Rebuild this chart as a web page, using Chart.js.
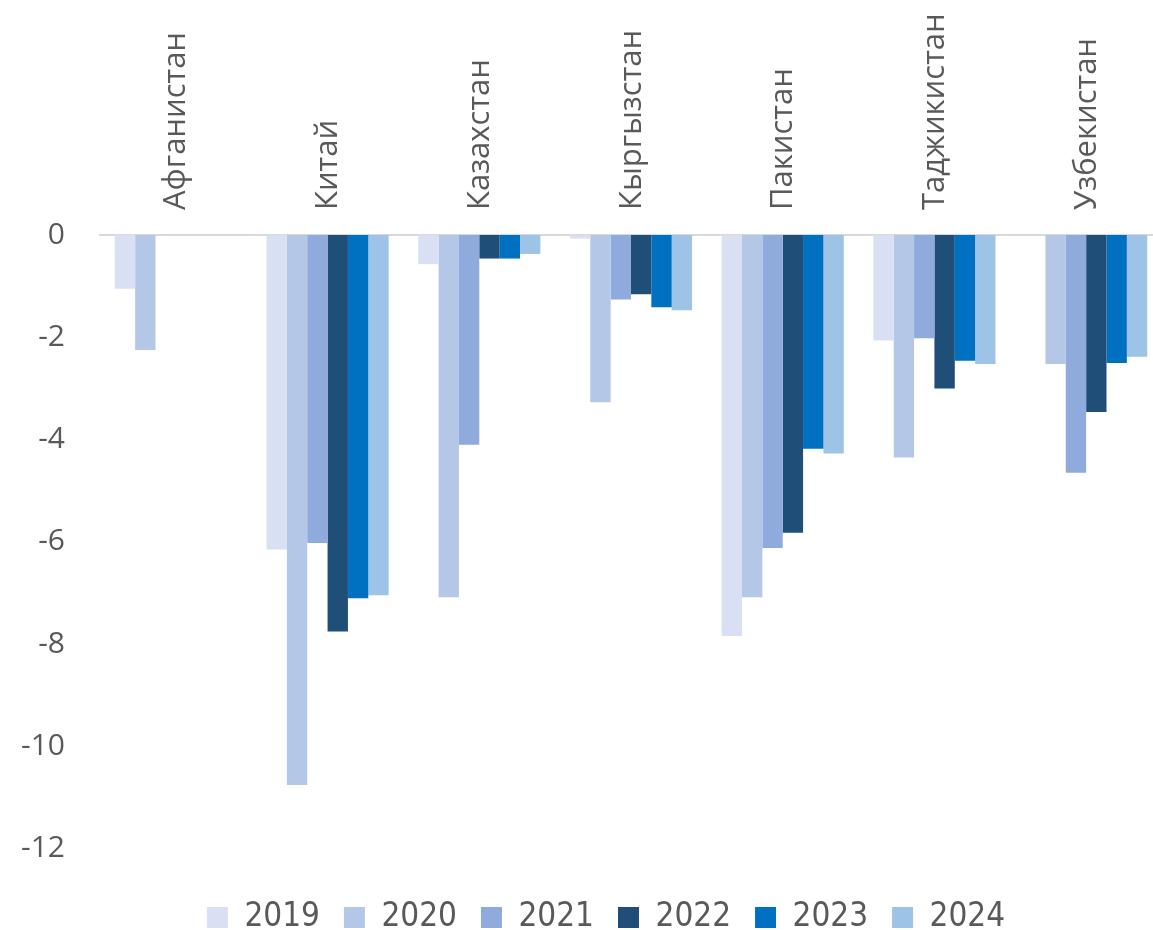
<!DOCTYPE html>
<html>
<head>
<meta charset="utf-8">
<script src="https://cdn.jsdelivr.net/npm/chart.js@4"></script>
<style>
  html, body { margin: 0; padding: 0; background: #fff; overflow: hidden; }
  #wrap { position: absolute; left: 0; top: 0; }
</style>
</head>
<body>
<div id="wrap"><canvas id="balanceChart" width="1162" height="944"></canvas></div>
<script>
// Categories (countries) and years
var countries = ["Афганистан", "Китай", "Казахстан", "Кыргызстан", "Пакистан", "Таджикистан", "Узбекистан"];
var years = ["2019", "2020", "2021", "2022", "2023", "2024"];

// Values per year
var v2019 = [-1.05, -6.15, -0.57, -0.07, -7.84, -2.06, null];
var v2020 = [-2.25, -10.75, -7.08, -3.27, -7.08, -4.35, -2.52];
var v2021 = [null, -6.02, -4.10, -1.26, -6.12, -2.02, -4.65];
var v2022 = [null, -7.75, -0.46, -1.16, -5.82, -3.00, -3.46];
var v2023 = [null, -7.10, -0.46, -1.41, -4.18, -2.46, -2.50];
var v2024 = [null, -7.04, -0.37, -1.47, -4.27, -2.52, -2.38];

var yTicks = [0, -2, -4, -6, -8, -10, -12];

var colors = ["#dae0f3", "#b4c7e7", "#8faadc", "#1f4e79", "#0070c0", "#9dc3e6"];
var series = [v2019, v2020, v2021, v2022, v2023, v2024];

var dataBalance = {
    labels: countries,
    datasets: years.map(function (y, i) {
        return {
            label: y,
            data: series[i],
            backgroundColor: colors[i],
            borderWidth: 0,
            categoryPercentage: 0.805,
            barPercentage: 1.0
        };
    })
};

// nudge the legend a bit to the right, like the original
var legendShift = {
    id: "legendShift",
    afterLayout: function (chart) {
        chart.legend.left += 25;
        chart.legend.right += 25;
    }
};

var optBalance = {
    responsive: false,
    animation: false,
    layout: { padding: 0 },
    plugins: {
        tooltip: { enabled: false },
        legend: {
            position: "bottom",
            labels: {
                boxWidth: 21,
                boxHeight: 21,
                padding: 24,
                color: "#595959",
                font: { family: "'DejaVu Sans Condensed', sans-serif", size: 33 }
            }
        }
    },
    scales: {
        x: {
            position: "top",
            grid: { display: false, drawTicks: false },
            border: { display: true, color: "#d9d9d9", width: 2 },
            ticks: {
                color: "#595959",
                minRotation: 90,
                maxRotation: 90,
                padding: 25,
                labelOffset: 38,
                autoSkip: false,
                font: { family: "'Open Sans', sans-serif", size: 31 }
            },
            afterFit: function (s) { s.height = 235; }
        },
        y: {
            min: -12.55,
            max: 0,
            grid: { display: false, drawTicks: false },
            border: { display: false },
            ticks: {
                stepSize: 2,
                color: "#595959",
                padding: 35,
                font: { family: "'Open Sans', sans-serif", size: 30 }
            },
            afterBuildTicks: function (s) {
                s.ticks = yTicks.map(function (t) { return { value: t }; });
            },
            afterFit: function (s) { s.width = 100; }
        }
    }
};

(function () {
    var ctx = document.getElementById("balanceChart").getContext("2d");
    var balanceChart = new Chart(ctx, {
        type: "bar",
        data: dataBalance,
        options: optBalance,
        plugins: [legendShift]
    });
})();
</script>
</body>
</html>
